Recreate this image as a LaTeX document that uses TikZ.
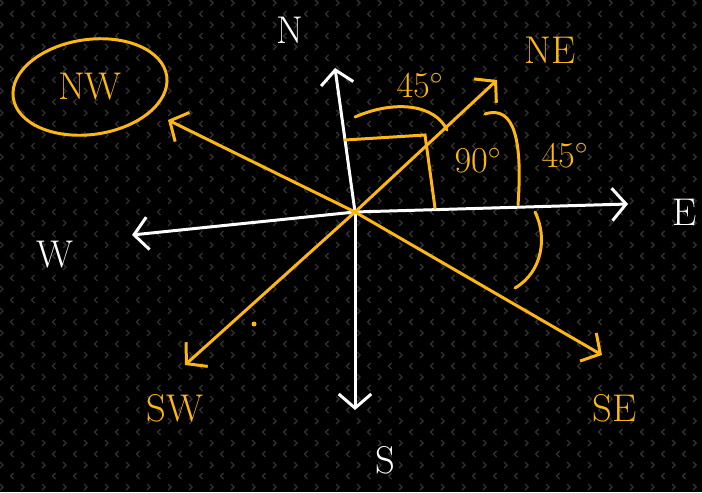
\documentclass[tikz,border=0pt]{standalone}
\usepackage{amsmath}
\usetikzlibrary{arrows.meta, shapes.geometric}

\definecolor{amber}{HTML}{FCB712}
\definecolor{chev}{HTML}{303030}

\begin{document}
\begin{tikzpicture}[>={Straight Barb[length=2.8mm,width=6.5mm]},
  axis/.style={white, line width=1.7pt, line cap=round},
  ray/.style={amber, line width=1.7pt, line cap=round},
  lbl/.style={font=\fontsize{22}{24}\selectfont},
  ang/.style={amber, font=\fontsize{20}{22}\selectfont}]
  % dark board with faint chevrons
  \fill[black] (0,0) rectangle (14.04,9.84);
  \useasboundingbox (0,0) rectangle (14.04,9.84);
  \foreach \row in {0,...,44} {
    \foreach \col in {0,...,34} {
      \pgfmathsetmacro{\xx}{0.42*\col + 0.21*mod(\row,2)}
      \pgfmathsetmacro{\yy}{0.22*\row + 0.1}
      \ifodd\row
        \draw[chev, line width=0.8pt] (\xx+0.06,\yy+0.06) -- (\xx,\yy) -- (\xx+0.06,\yy-0.06);
      \else
        \draw[chev, line width=0.8pt] (\xx,\yy+0.06) -- (\xx+0.06,\yy) -- (\xx,\yy-0.06);
      \fi
    }
  }

  \coordinate (O) at (7.10,5.60);
  \coordinate (N) at (6.70,8.48);
  \coordinate (S) at (7.10,1.64);
  \coordinate (E) at (12.56,5.76);
  \coordinate (W) at (2.64,5.14);
  \coordinate (NE) at (9.94,8.24);
  \coordinate (SW) at (3.70,2.54);
  \coordinate (NW) at (3.36,7.44);
  \coordinate (SE) at (12.04,2.74);

  % main directions
  \draw[axis,->] (O) -- (N);
  \draw[axis,->] (O) -- (S);
  \draw[axis,->] (O) -- (E);
  \draw[axis,->] (O) -- (W);
  \draw[ray,->] (O) -- (NE);
  \draw[ray,->] (O) -- (SW);
  \draw[ray,->] (O) -- (NW);
  \draw[ray,->] (O) -- (SE);

  \node[lbl, white] (lblN) at (5.80,9.24) {N};
  \node[lbl, white] (lblS) at (7.70,0.64) {S};
  \node[lbl, white] (lblE) at (13.70,5.60) {E};
  \node[lbl, white] (lblW) at (1.10,4.74) {W};
  \node[lbl, amber] (lblNE) at (11.00,8.84) {NE};
  \node[lbl, amber] (lblSW) at (3.50,1.68) {SW};
  \node[lbl, amber] (lblSE) at (12.30,1.68) {SE};
  \node[lbl, amber] (lblNW) at (1.80,8.10) {NW};
  \draw[ray, rotate around={8:(lblNW)}] (lblNW) ellipse (1.55cm and 0.95cm);
  \fill[amber] (5.08,3.36) circle (0.05);

  % right angle and angle marks
  \coordinate (ra1) at (6.90,7.04);
  \coordinate (ra2) at (8.50,7.14);
  \coordinate (ra3) at (8.70,5.68);
  \draw[ray] (ra1) -- (ra2) -- (ra3);

  \coordinate (a1) at (7.10,7.50);
  \coordinate (a2) at (8.94,7.24);
  \draw[ray] (a1) .. controls (7.9,7.85) and (8.7,7.75) .. (a2);
  \node[ang] (lbl45a) at (8.40,8.14) {$45^\circ$};

  \coordinate (b1) at (9.70,7.56);
  \coordinate (b2) at (10.36,5.74);
  \draw[ray] (b1) .. controls (10.3,7.75) and (10.45,7.0) .. (b2);
  \node[ang] (lbl90) at (9.56,6.64) {$90^\circ$};
  \node[ang] (lbl45b) at (11.30,6.74) {$45^\circ$};

  \coordinate (c1) at (10.70,5.60);
  \coordinate (c2) at (10.30,4.08);
  \draw[ray] (c1) .. controls (10.95,5.1) and (10.85,4.4) .. (c2);
\end{tikzpicture}
\end{document}
